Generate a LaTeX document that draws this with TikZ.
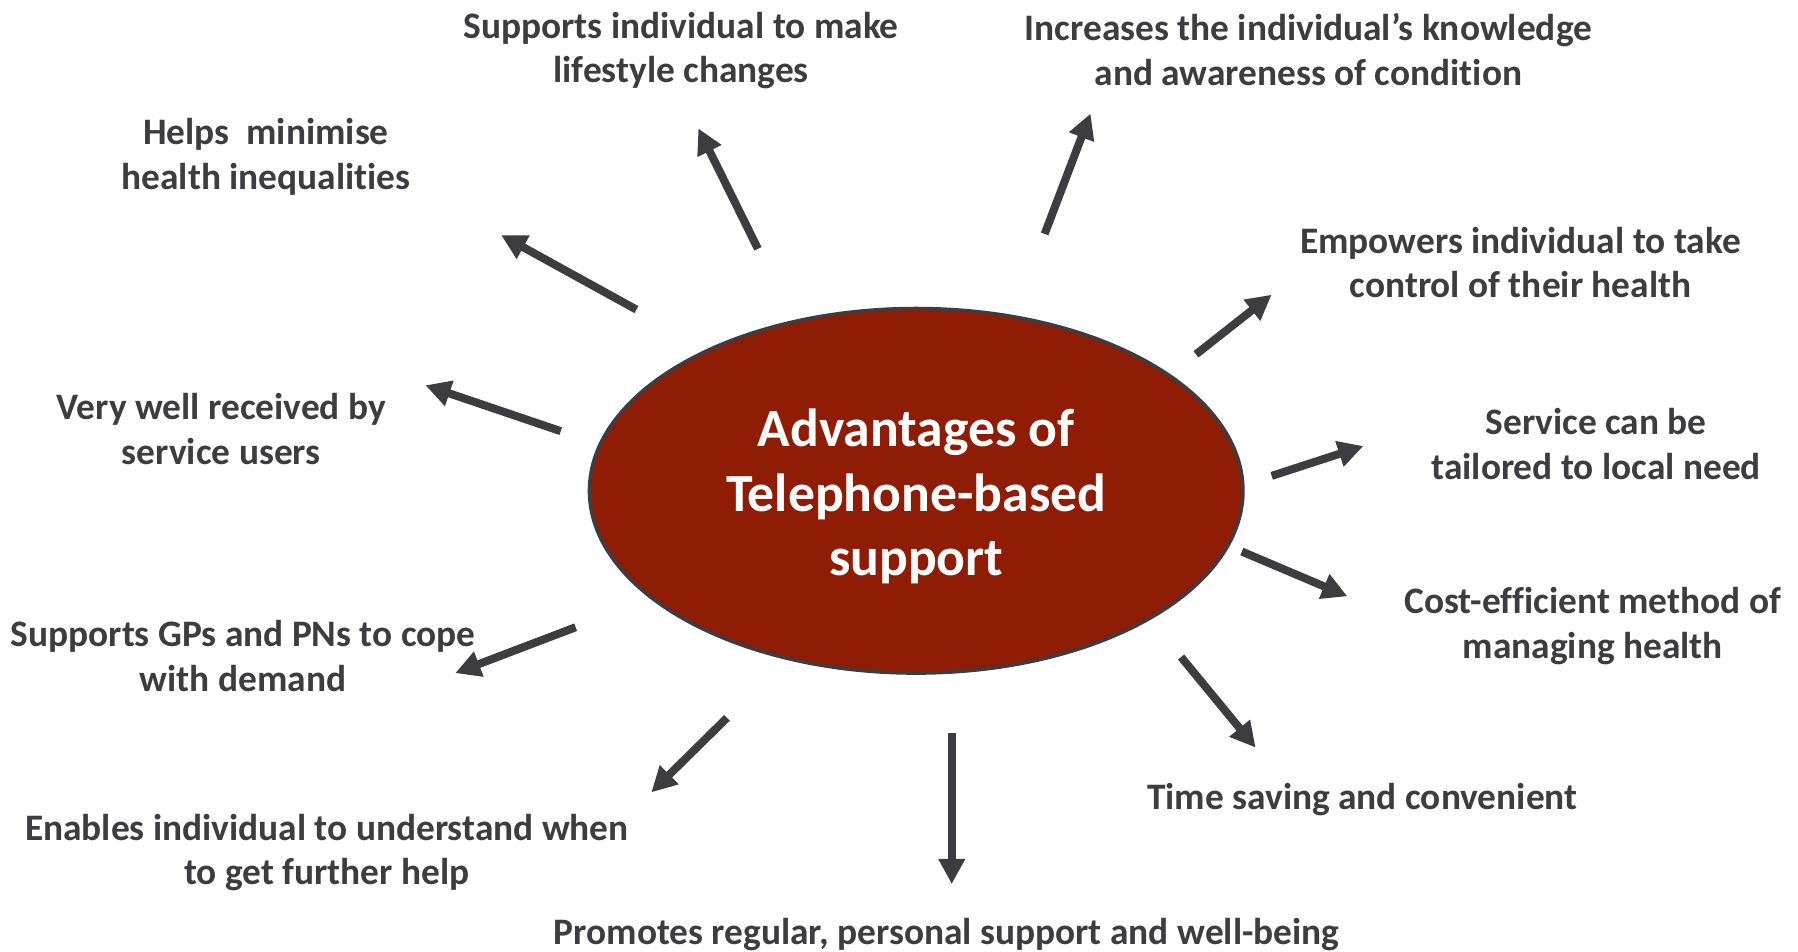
\documentclass[tikz,border=0pt]{standalone}
\usepackage{fontspec}
\setmainfont{Carlito}[Ligatures={NoCommon}]
\usetikzlibrary{arrows.meta,shapes.geometric}
\definecolor{ink}{HTML}{3C3C41}
\definecolor{hub}{HTML}{8F1C05}
\begin{document}
\begin{tikzpicture}[x=0.5pt,y=-0.5pt,
  label/.style={text=ink,font=\bfseries\fontsize{16.3pt}{19.5pt}\selectfont,align=center,inner sep=0pt},
  ray/.style={draw=ink,line width=3.5pt,-{Triangle[length=11pt,width=11pt]}}]
\useasboundingbox (0,0) rectangle (1568,830);
% central ellipse
\node[ellipse,draw=ink,line width=1.5pt,fill=hub,minimum width=285pt,
  minimum height=159pt,inner sep=0pt] (hub) at (799,428) {};
\node[text=white,font=\bfseries\fontsize{23.4pt}{28pt}\selectfont,align=center] (title) at (799,433)
  {Advantages of\\Telephone-based\\support};
% benefits
\node[label] (life) at (594,44) {Supports individual to make\\lifestyle changes};
\node[label] (know) at (1141,43.5) {Increases the individual’s knowledge\\and awareness of condition};
\node[label] (ineq) at (232,137) {Helps~~minimise\\health inequalities};
\node[label] (empw) at (1326,229) {Empowers individual to take\\control of their health};
\node[label] (recv) at (193,374) {Very well received by\\service users};
\node[label] (tail) at (1392,387) {Service can be\\tailored to local need};
\node[label] (cost) at (1389,546) {Cost-efficient method of\\managing health};
\node[label] (gps) at (212,572) {Supports GPs and PNs to cope\\with demand};
\node[label] (time) at (1188,697) {Time saving and convenient};
\node[label] (help) at (285,743.5) {Enables individual to understand when\\to get further help};
\node[label] (prom) at (825.5,815) {Promotes regular, personal support and well-being};
% arrow ends
\coordinate (a1) at (555,270);  \coordinate (b1) at (437,205);
\coordinate (a2) at (661,217);  \coordinate (b2) at (609,112);
\coordinate (a3) at (911,204);  \coordinate (b3) at (951,99);
\coordinate (a4) at (1043,309); \coordinate (b4) at (1109,257);
\coordinate (a5) at (1109,415); \coordinate (b5) at (1189,389);
\coordinate (a6) at (1083,481); \coordinate (b6) at (1175,520);
\coordinate (a7) at (1030,573); \coordinate (b7) at (1095,652);
\coordinate (a8) at (830,639);  \coordinate (b8) at (830,771);
\coordinate (a9) at (634,626);  \coordinate (b9) at (568,691);
\coordinate (a10) at (502,547); \coordinate (b10) at (397,587);
\coordinate (a11) at (489,376); \coordinate (b11) at (371,336);
\foreach \i in {1,...,11} \draw[ray] (a\i) -- (b\i);
\end{tikzpicture}
\end{document}
